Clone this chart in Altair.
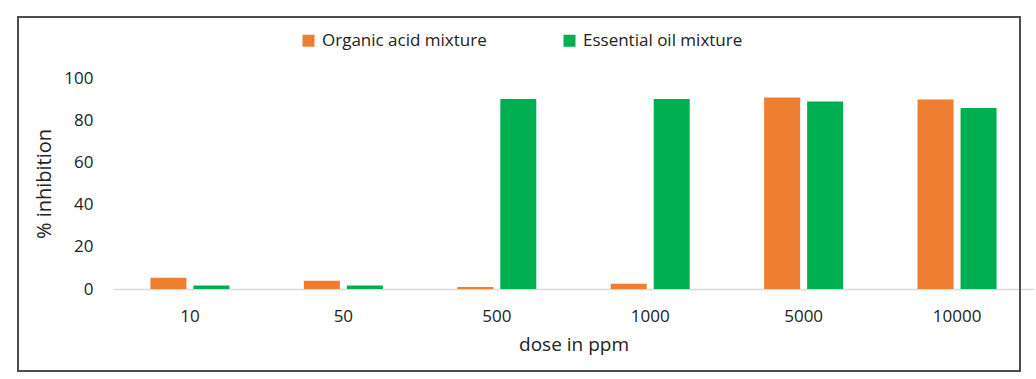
import altair as alt
import pandas as pd

doses = ["10", "50", "500", "1000", "5000", "10000"]
organic = [5.3, 3.9, 1.0, 2.5, 90.8, 89.8]
essential = [1.7, 1.7, 90.0, 90.0, 88.9, 85.8]
series = ["Organic acid mixture", "Essential oil mixture"]
colors = ["#ED7D31", "#00B050"]

rows = []
for d, o, e in zip(doses, organic, essential):
    rows.append({"dose": d, "series": series[0], "value": o})
    rows.append({"dose": d, "series": series[1], "value": e})
df = pd.DataFrame(rows)

FONT = "Open Sans"

bars = alt.Chart(df).mark_bar().encode(
    x=alt.X(
        "dose:N",
        sort=doses,
        scale=alt.Scale(paddingInner=0.485, paddingOuter=0.244),
        axis=alt.Axis(
            title="dose in ppm",
            labelAngle=0,
            ticks=False,
            domainColor="#d9d9d9",
            domainWidth=1.5,
            labelPadding=19,
            titlePadding=11,
            labelFontSize=17,
            titleFontSize=19,
            labelColor="#222222",
            titleColor="#222222",
            titleFontWeight="normal",
        ),
    ),
    xOffset=alt.XOffset("series:N", sort=series, scale=alt.Scale(paddingInner=0.163, paddingOuter=0)),
    y=alt.Y(
        "value:Q",
        scale=alt.Scale(domain=[0, 100]),
        axis=alt.Axis(
            title="% inhibition",
            values=[0, 20, 40, 60, 80, 100],
            grid=False,
            domain=False,
            ticks=False,
            labelPadding=20,
            titlePadding=9,
            labelFontSize=17,
            titleFontSize=20,
            labelColor="#222222",
            titleColor="#222222",
            titleFontWeight="normal",
        ),
    ),
    color=alt.Color(
        "series:N",
        sort=series,
        scale=alt.Scale(domain=series, range=colors),
        legend=alt.Legend(
            title=None,
            orient="none",
            legendX=187,
            legendY=-46,
            direction="horizontal",
            symbolType="square",
            symbolSize=144,
            symbolStrokeWidth=0,
            labelFontSize=17,
            labelOffset=5,
            columnPadding=74,
            labelColor="#222222",
            labelLimit=300,
            padding=0,
        ),
    ),
)

frame = alt.Chart(pd.DataFrame({"a": [0]})).mark_rect(
    fill="transparent", stroke="#4d4d4d", strokeWidth=2
).encode(
    x=alt.value(-95), x2=alt.value(907), y=alt.value(-61), y2=alt.value(293)
)

chart = alt.layer(bars, frame).properties(
    width=921,
    height=211,
    autosize=alt.AutoSizeParams(type="none"),
    padding={"left": 113, "top": 78, "right": 2, "bottom": 90},
).configure(font=FONT).configure_view(stroke=None)

chart.save("out.html", embed_options={"renderer": "svg", "actions": False})
